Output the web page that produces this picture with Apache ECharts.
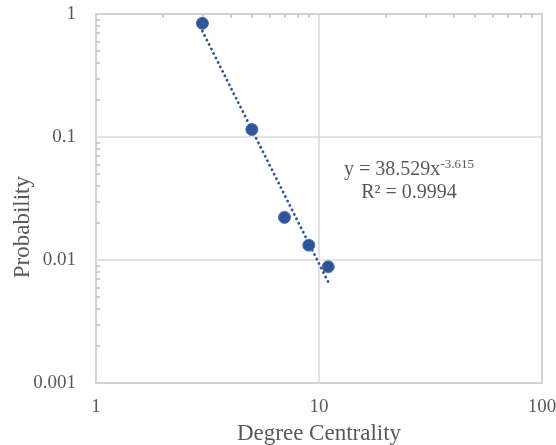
<!DOCTYPE html>
<html>
<head>
<meta charset="utf-8">
<script src="https://cdn.jsdelivr.net/npm/echarts@6/dist/echarts.min.js"></script>
<style>
  html, body { margin: 0; padding: 0; background: #fff; }
  #chart { width: 556px; height: 445px; }
</style>
</head>
<body>
<div id="chart"></div>
<script>
// Observed degree-centrality distribution
const degrees = [3, 5, 7, 9, 11];
const probabilities = [0.84, 0.115, 0.0222, 0.0132, 0.0088];

// Power-law fit y = a * x^b
const fitA = 38.529;
const fitB = -3.615;
const fitR2 = '0.9994';
const fitRange = [3, 11];

// Axis ranges and tick labels
const xTickLabels = ['1', '10', '100'];
const yTickLabels = ['0.001', '0.01', '0.1', '1'];
const xMinorTicks = [2, 3, 4, 5, 6, 7, 8, 9, 20, 30, 40, 50, 60, 70, 80, 90];
const yMinorTicks = [0.002, 0.003, 0.004, 0.005, 0.006, 0.007, 0.008, 0.009,
                     0.02, 0.03, 0.04, 0.05, 0.06, 0.07, 0.08, 0.09,
                     0.2, 0.3, 0.4, 0.5, 0.6, 0.7, 0.8, 0.9];

const font = '"Liberation Serif", "Times New Roman", serif';
const textColor = '#595959';
const gridColor = '#d9d9d9';
const frameColor = '#bfbfbf';
const markColor = '#2f5597';

const trendData = fitRange.map(x => [x, fitA * Math.pow(x, fitB)]);
const pointData = degrees.map((d, i) => [d, probabilities[i]]);

function labelFor(list, minExp) {
  return v => {
    const idx = Math.round(Math.log10(v)) - minExp;
    return list[idx] !== undefined ? list[idx] : '';
  };
}

const minorTickStyle = {
  show: true, inside: true, length: 4,
  lineStyle: { color: frameColor, width: 1.5 }
};

const chart = echarts.init(document.getElementById('chart'), null, { renderer: 'canvas' });
chart.setOption({
  backgroundColor: '#ffffff',
  animation: false,
  grid: {
    left: 96, right: 14, top: 14, bottom: 62,
    outerBoundsMode: 'none', containLabel: false,
    show: true, borderColor: frameColor, borderWidth: 2,
    backgroundColor: 'transparent'
  },
  xAxis: [{
    type: 'log', logBase: 10, min: 1, max: 100, position: 'bottom',
    axisLine: { show: false },
    axisTick: { show: false },
    axisLabel: {
      fontFamily: font, fontSize: 19, color: textColor, margin: 15,
      formatter: labelFor(xTickLabels, 0)
    },
    splitLine: { show: true, lineStyle: { color: gridColor, width: 1.5 } },
    name: 'Degree Centrality', nameLocation: 'middle', nameGap: 39,
    nameTextStyle: { fontFamily: font, fontSize: 23, color: textColor }
  }, {
    // minor ticks along the top edge
    type: 'log', logBase: 10, min: 1, max: 100, position: 'top',
    axisLine: { show: false },
    axisLabel: { show: false },
    splitLine: { show: false },
    axisTick: Object.assign({ customValues: xMinorTicks }, minorTickStyle)
  }],
  yAxis: [{
    type: 'log', logBase: 10, min: 0.001, max: 1, position: 'left',
    axisLine: { show: false },
    axisTick: { show: false },
    axisLabel: {
      fontFamily: font, fontSize: 19, color: textColor, margin: 20,
      formatter: labelFor(yTickLabels, -3)
    },
    splitLine: { show: true, lineStyle: { color: gridColor, width: 1.5 } }
  }, {
    // minor ticks along the left edge
    type: 'log', logBase: 10, min: 0.001, max: 1, position: 'left', offset: 0,
    axisLine: { show: false },
    axisLabel: { show: false },
    splitLine: { show: false },
    axisTick: Object.assign({ customValues: yMinorTicks }, minorTickStyle)
  }],
  graphic: [{
    type: 'text', left: 11, top: 176, rotation: Math.PI / 2,
    style: { text: 'Probability', font: '23px ' + font, fill: textColor }
  }, {
    type: 'text', x: 409, y: 158,
    style: {
      text: '{a|y = ' + fitA + 'x}{s|' + fitB + '}\n{a|R² = ' + fitR2 + '}',
      align: 'center',
      rich: {
        a: { fontFamily: font, fontSize: 20, fill: textColor, lineHeight: 23 },
        s: { fontFamily: font, fontSize: 13, fill: textColor, verticalAlign: 'top', lineHeight: 23, padding: [0, 0, 9, 0] }
      }
    }
  }],
  series: [{
    type: 'line', xAxisIndex: 0, yAxisIndex: 0,
    data: trendData, showSymbol: false, silent: true, z: 2,
    lineStyle: { color: markColor, width: 2.8, type: [0.1, 4.9], cap: 'round' }
  }, {
    type: 'scatter', xAxisIndex: 0, yAxisIndex: 0,
    data: pointData, symbol: 'circle', symbolSize: 12, z: 3,
    itemStyle: { color: markColor, borderColor: '#4472c4', borderWidth: 1, opacity: 1 }
  }]
});
</script>
</body>
</html>
